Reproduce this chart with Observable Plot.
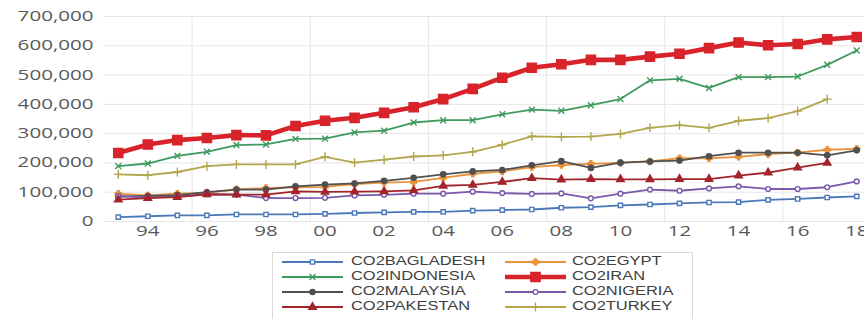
<!DOCTYPE html>
<html>
<head>
<meta charset="utf-8">
<script src="https://cdn.jsdelivr.net/npm/d3@7"></script>
<script src="https://cdn.jsdelivr.net/npm/@observablehq/plot@0.6"></script>
<style>
  html, body { margin: 0; padding: 0; background: #fff; }
  #wrap { position: relative; width: 864px; height: 319px; overflow: hidden; font-family: "Open Sans", sans-serif; }
  #chart svg { display: block; overflow: hidden; }
  #legend-box { position: absolute; left: 272px; top: 252px; width: 421px; height: 90px; border: 1px solid #d9d9d9; box-sizing: border-box; }
  .leg-item { position: absolute; height: 14px; }
  .leg-item svg { position: absolute; left: 0; top: 1px; }
  .leg-text { position: absolute; top: -1px; white-space: nowrap; font-family: "Liberation Sans", Arial, sans-serif; font-size: 12px; color: #404040; transform: scaleX(1.37); transform-origin: left center; line-height: 14px; }
</style>
</head>
<body>
<div id="wrap">
  <div id="chart"></div>
  <div id="legend-box"></div>
  <div id="legend"></div>
</div>
<script>
// ---- data (kt CO2) ----
const years = [1993,1994,1995,1996,1997,1998,1999,2000,2001,2002,2003,2004,2005,2006,2007,2008,2009,2010,2011,2012,2013,2014,2015,2016,2017,2018];
const co2Bagladesh = [15000,18000,21000,21000,24000,24000,24000,26000,29000,31000,33000,33000,37000,39000,41000,47000,49000,55000,58000,62000,65000,66000,74000,77000,82000,86000];
const co2Egypt     = [95000,89000,95000,98000,110000,114000,117000,118000,128000,133000,135000,149000,163000,171000,186000,193000,197000,200000,205000,216000,216000,221000,230000,235000,245000,248000];
const co2Indonesia = [189000,198000,224000,238000,261000,263000,282000,283000,304000,310000,338000,346000,346000,366000,382000,378000,397000,418000,482000,487000,456000,493000,493000,495000,535000,584000];
const co2Iran      = [234000,263000,278000,285000,295000,294000,326000,344000,354000,371000,390000,418000,453000,491000,525000,537000,552000,552000,563000,573000,592000,611000,602000,606000,622000,630000];
const co2Malaysia  = [85000,87000,90000,100000,109000,109000,120000,126000,130000,139000,149000,161000,171000,176000,192000,206000,183000,201000,205000,208000,223000,235000,235000,235000,226000,243000];
const co2Nigeria   = [87000,82000,86000,93000,92000,80000,80000,81000,89000,91000,95000,95000,102000,97000,94000,96000,79000,95000,109000,105000,113000,120000,111000,111000,117000,137000];
const co2Pakestan  = [75000,80000,83000,93000,92000,92000,103000,101000,102000,103000,106000,122000,125000,135000,148000,143000,145000,144000,144000,145000,145000,157000,167000,184000,200000,null];
const co2Turkey    = [161000,158000,169000,189000,195000,195000,195000,221000,201000,211000,222000,226000,238000,262000,291000,289000,290000,299000,320000,329000,320000,344000,353000,377000,418000,null];
const seriesNames  = ["CO2BAGLADESH","CO2EGYPT","CO2INDONESIA","CO2IRAN","CO2MALAYSIA","CO2NIGERIA","CO2PAKESTAN","CO2TURKEY"];
const yTicks = [0,100000,200000,300000,400000,500000,600000,700000];
const xTickYears = [1994,1996,1998,2000,2002,2004,2006,2008,2010,2012,2014,2016,2018];

// ---- styling (separate from data) ----
const seriesValues = [co2Bagladesh,co2Egypt,co2Indonesia,co2Iran,co2Malaysia,co2Nigeria,co2Pakestan,co2Turkey];
const styles = {
  CO2BAGLADESH: {color:"#4a78b8", symbol:"square",   fill:"#ffffff", r:2.4, sw:1.8},
  CO2EGYPT:     {color:"#e8923c", symbol:"cross",    fill:"#e8923c", r:2.6, sw:1.8},
  CO2INDONESIA: {color:"#3f9a5e", symbol:"times",    fill:"none",    r:2.8, sw:1.8},
  CO2IRAN:      {color:"#d8232a", symbol:"square",   fill:"#d8232a", r:5.2, sw:4.6},
  CO2MALAYSIA:  {color:"#505050", symbol:"circle",   fill:"#505050", r:2.6, sw:1.8},
  CO2NIGERIA:   {color:"#7a58aa", symbol:"circle",   fill:"#ffffff", r:2.4, sw:1.8},
  CO2PAKESTAN:  {color:"#a3252b", symbol:"triangle", fill:"#a3252b", r:2.8, sw:1.8},
  CO2TURKEY:    {color:"#b3a64c", symbol:"plus",     fill:"none",    r:3.0, sw:1.8}
};

const marks = [];
marks.push(Plot.ruleY(yTicks, {stroke:"#e6e6e6", strokeWidth:1}));
const gridX = years.filter(y => (y - 1995) % 4 === 0 && y <= 2015).map(y => y + 0.5);
marks.push(Plot.ruleX(gridX, {stroke:"#e6e6e6", strokeWidth:1}));

seriesNames.forEach((name, i) => {
  const st = styles[name];
  const rows = years.map((year, j) => ({year, value: seriesValues[i][j]})).filter(d => d.value != null);
  marks.push(Plot.line(rows, {x:"year", y:"value", stroke:st.color, strokeWidth:st.sw, strokeLinejoin:"round"}));
  marks.push(Plot.dot(rows, {x:"year", y:"value", symbol:st.symbol, r:st.r, fill:st.fill, stroke:st.color, strokeWidth:1.4}));
});

const chart = Plot.plot({
  width: 864,
  height: 245,
  marginTop: 16,
  marginBottom: 24,
  marginLeft: 103,
  marginRight: -7,
  style: {fontFamily: "'Open Sans', sans-serif", fontSize: "14px", color: "#595959", background: "#fff"},
  x: {domain:[1992.5, 2018.5], ticks: xTickYears, tickFormat: d => String(d % 100).padStart(2, "0"), tickSize: 0, tickPadding: 5, label: null},
  y: {domain:[0, 700000], ticks: yTicks, tickFormat: d3.format(","), tickSize: 0, tickPadding: 10, label: null},
  marks
});
document.getElementById("chart").appendChild(chart);

// horizontally stretch tick labels (the reference image is widened)
chart.querySelectorAll("text").forEach(t => {
  const len = t.getComputedTextLength();
  if (len > 0) {
    t.setAttribute("textLength", (len * 1.47).toFixed(1));
    t.setAttribute("lengthAdjust", "spacingAndGlyphs");
  }
});

// legend
const legend = document.getElementById("legend");
const colSwatchX = [282, 505], colTextX = [351, 572], rowY = [262, 277, 292, 307];
seriesNames.forEach((name, i) => {
  const st = styles[name];
  const col = i % 2, row = Math.floor(i / 2);
  const item = document.createElement("div");
  item.className = "leg-item";
  item.style.left = colSwatchX[col] + "px";
  item.style.top = (rowY[row] - 7) + "px";
  const w = 61;
  const sym = {square:d3.symbolSquare, cross:d3.symbolCross, times:d3.symbolTimes, circle:d3.symbolCircle, triangle:d3.symbolTriangle, plus:d3.symbolPlus}[st.symbol];
  const path = d3.symbol(sym, Math.PI * st.r * st.r)();
  item.innerHTML = `<svg width="${w}" height="12"><line x1="0" x2="${w}" y1="6" y2="6" stroke="${st.color}" stroke-width="${st.sw}"/>` +
    `<path d="${path}" transform="translate(${w/2},6)" fill="${st.fill}" stroke="${st.color}" stroke-width="1.4"/></svg>` +
    `<span class="leg-text" style="left:${colTextX[col] - colSwatchX[col]}px">${name}</span>`;
  legend.appendChild(item);
});
</script>
</body>
</html>
